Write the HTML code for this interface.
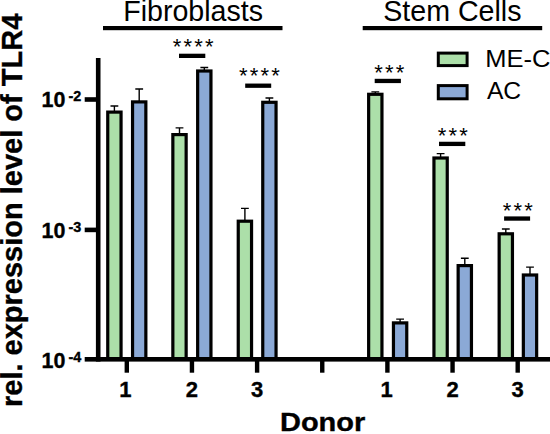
<!DOCTYPE html>
<html lang="en"><head><meta charset="utf-8"><title>TLR4 expression</title>
<style>html,body{margin:0;padding:0;background:#fff;}svg{display:block;}text{font-family:"Liberation Sans",sans-serif;fill:#000;}.b{font-weight:bold;stroke:#000;stroke-width:0.35px;}</style></head><body>
<svg width="550" height="434" viewBox="0 0 550 434">
<rect width="550" height="434" fill="#fff"/>
<path d="M114.40 111.50V106.05M110.50 106.05H118.30" stroke="#000" stroke-width="1.4" fill="none"/>
<path d="M139.20 101.30V88.95M135.30 88.95H143.10" stroke="#000" stroke-width="1.4" fill="none"/>
<path d="M179.50 134.00V127.85M175.60 127.85H183.40" stroke="#000" stroke-width="1.4" fill="none"/>
<path d="M204.30 70.40V67.55M200.40 67.55H208.20" stroke="#000" stroke-width="1.4" fill="none"/>
<path d="M244.90 220.60V208.35M241.00 208.35H248.80" stroke="#000" stroke-width="1.4" fill="none"/>
<path d="M269.40 101.70V98.05M265.50 98.05H273.30" stroke="#000" stroke-width="1.4" fill="none"/>
<path d="M375.30 93.70V91.85M371.40 91.85H379.20" stroke="#000" stroke-width="1.4" fill="none"/>
<path d="M400.10 322.30V319.15M396.20 319.15H404.00" stroke="#000" stroke-width="1.4" fill="none"/>
<path d="M440.60 157.40V153.65M436.70 153.65H444.50" stroke="#000" stroke-width="1.4" fill="none"/>
<path d="M464.80 265.00V258.25M460.90 258.25H468.70" stroke="#000" stroke-width="1.4" fill="none"/>
<path d="M505.80 233.20V228.95M501.90 228.95H509.70" stroke="#000" stroke-width="1.4" fill="none"/>
<path d="M530.00 274.40V267.15M526.10 267.15H533.90" stroke="#000" stroke-width="1.4" fill="none"/>
<rect x="107.75" y="112.10" width="13.3" height="247.20" fill="#acdfa9" stroke="#000" stroke-width="3.2"/>
<rect x="132.55" y="101.90" width="13.3" height="257.40" fill="#8ba9d6" stroke="#000" stroke-width="3.2"/>
<rect x="172.85" y="134.60" width="13.3" height="224.70" fill="#acdfa9" stroke="#000" stroke-width="3.2"/>
<rect x="197.65" y="71.00" width="13.3" height="288.30" fill="#8ba9d6" stroke="#000" stroke-width="3.2"/>
<rect x="238.25" y="221.20" width="13.3" height="138.10" fill="#acdfa9" stroke="#000" stroke-width="3.2"/>
<rect x="262.75" y="102.30" width="13.3" height="257.00" fill="#8ba9d6" stroke="#000" stroke-width="3.2"/>
<rect x="368.65" y="94.30" width="13.3" height="265.00" fill="#acdfa9" stroke="#000" stroke-width="3.2"/>
<rect x="393.45" y="322.90" width="13.3" height="36.40" fill="#8ba9d6" stroke="#000" stroke-width="3.2"/>
<rect x="433.95" y="158.00" width="13.3" height="201.30" fill="#acdfa9" stroke="#000" stroke-width="3.2"/>
<rect x="458.15" y="265.60" width="13.3" height="93.70" fill="#8ba9d6" stroke="#000" stroke-width="3.2"/>
<rect x="499.15" y="233.80" width="13.3" height="125.50" fill="#acdfa9" stroke="#000" stroke-width="3.2"/>
<rect x="523.35" y="275.00" width="13.3" height="84.30" fill="#8ba9d6" stroke="#000" stroke-width="3.2"/>
<rect x="95.9" y="58" width="4.6" height="303.60" fill="#000"/>
<rect x="84.7" y="357.00" width="466.30" height="4.6" fill="#000"/>
<rect x="84.7" y="97.20" width="12" height="4.6" fill="#000"/>
<rect x="84.7" y="227.60" width="12" height="4.6" fill="#000"/>
<rect x="124.60" y="359.30" width="4.4" height="13.40" fill="#000"/>
<rect x="189.75" y="359.30" width="4.4" height="13.40" fill="#000"/>
<rect x="254.90" y="359.30" width="4.4" height="13.40" fill="#000"/>
<rect x="320.05" y="359.30" width="4.4" height="13.40" fill="#000"/>
<rect x="385.20" y="359.30" width="4.4" height="13.40" fill="#000"/>
<rect x="450.35" y="359.30" width="4.4" height="13.40" fill="#000"/>
<rect x="515.50" y="359.30" width="4.4" height="13.40" fill="#000"/>
<text class="b" x="41.5" y="107.4" font-size="22.2" textLength="23.9" lengthAdjust="spacingAndGlyphs">10</text>
<text class="b" x="68.4" y="100.9" font-size="14.4">-2</text>
<text class="b" x="41.5" y="238.0" font-size="22.2" textLength="23.9" lengthAdjust="spacingAndGlyphs">10</text>
<text class="b" x="68.4" y="231.5" font-size="14.4">-3</text>
<text class="b" x="41.5" y="368.0" font-size="22.2" textLength="23.9" lengthAdjust="spacingAndGlyphs">10</text>
<text class="b" x="68.4" y="361.5" font-size="14.4">-4</text>
<text class="b" x="125.40" y="397" font-size="22" text-anchor="middle">1</text>
<text class="b" x="191.95" y="397" font-size="22" text-anchor="middle">2</text>
<text class="b" x="257.10" y="397" font-size="22" text-anchor="middle">3</text>
<text class="b" x="386.70" y="397" font-size="22" text-anchor="middle">1</text>
<text class="b" x="452.55" y="397" font-size="22" text-anchor="middle">2</text>
<text class="b" x="517.70" y="397" font-size="22" text-anchor="middle">3</text>
<text class="b" x="280.0" y="431.4" font-size="25.8" textLength="85.3" lengthAdjust="spacingAndGlyphs">Donor</text>
<text class="b" transform="translate(21.6 407.0) rotate(-90)" font-size="29">rel. expression level of TLR4</text>
<text x="193.1" y="21" font-size="28.6" text-anchor="middle">Fibroblasts</text>
<rect x="103" y="26" width="179.5" height="4.2" fill="#000"/>
<text x="452.4" y="21" font-size="28.6" text-anchor="middle">Stem Cells</text>
<rect x="362.7" y="26" width="179.5" height="4.2" fill="#000"/>
<text x="194.25" y="53.70" font-size="22" letter-spacing="2.2" text-anchor="middle">****</text>
<rect x="179" y="53.70" width="26.30" height="4.3" fill="#000"/>
<text x="260.40" y="83.00" font-size="22" letter-spacing="2.2" text-anchor="middle">****</text>
<rect x="245.2" y="83.55" width="26.00" height="4.3" fill="#000"/>
<text x="390.40" y="80.10" font-size="22" letter-spacing="2.2" text-anchor="middle">***</text>
<rect x="374.7" y="78.80" width="26.20" height="4.3" fill="#000"/>
<text x="453.90" y="142.90" font-size="22" letter-spacing="2.2" text-anchor="middle">***</text>
<rect x="439" y="141.75" width="26.30" height="4.3" fill="#000"/>
<text x="518.95" y="217.70" font-size="22" letter-spacing="2.2" text-anchor="middle">***</text>
<rect x="504.1" y="216.40" width="26.00" height="4.3" fill="#000"/>
<rect x="438.3" y="53.1" width="28.8" height="12.5" fill="#acdfa9" stroke="#000" stroke-width="3"/>
<rect x="438.3" y="85.6" width="28.8" height="13.2" fill="#8ba9d6" stroke="#000" stroke-width="3"/>
<text x="485.3" y="67" font-size="23.6" textLength="65.2" lengthAdjust="spacingAndGlyphs">ME-C</text>
<text x="486.9" y="99.4" font-size="23.6" textLength="34.3" lengthAdjust="spacingAndGlyphs">AC</text>
</svg></body></html>
